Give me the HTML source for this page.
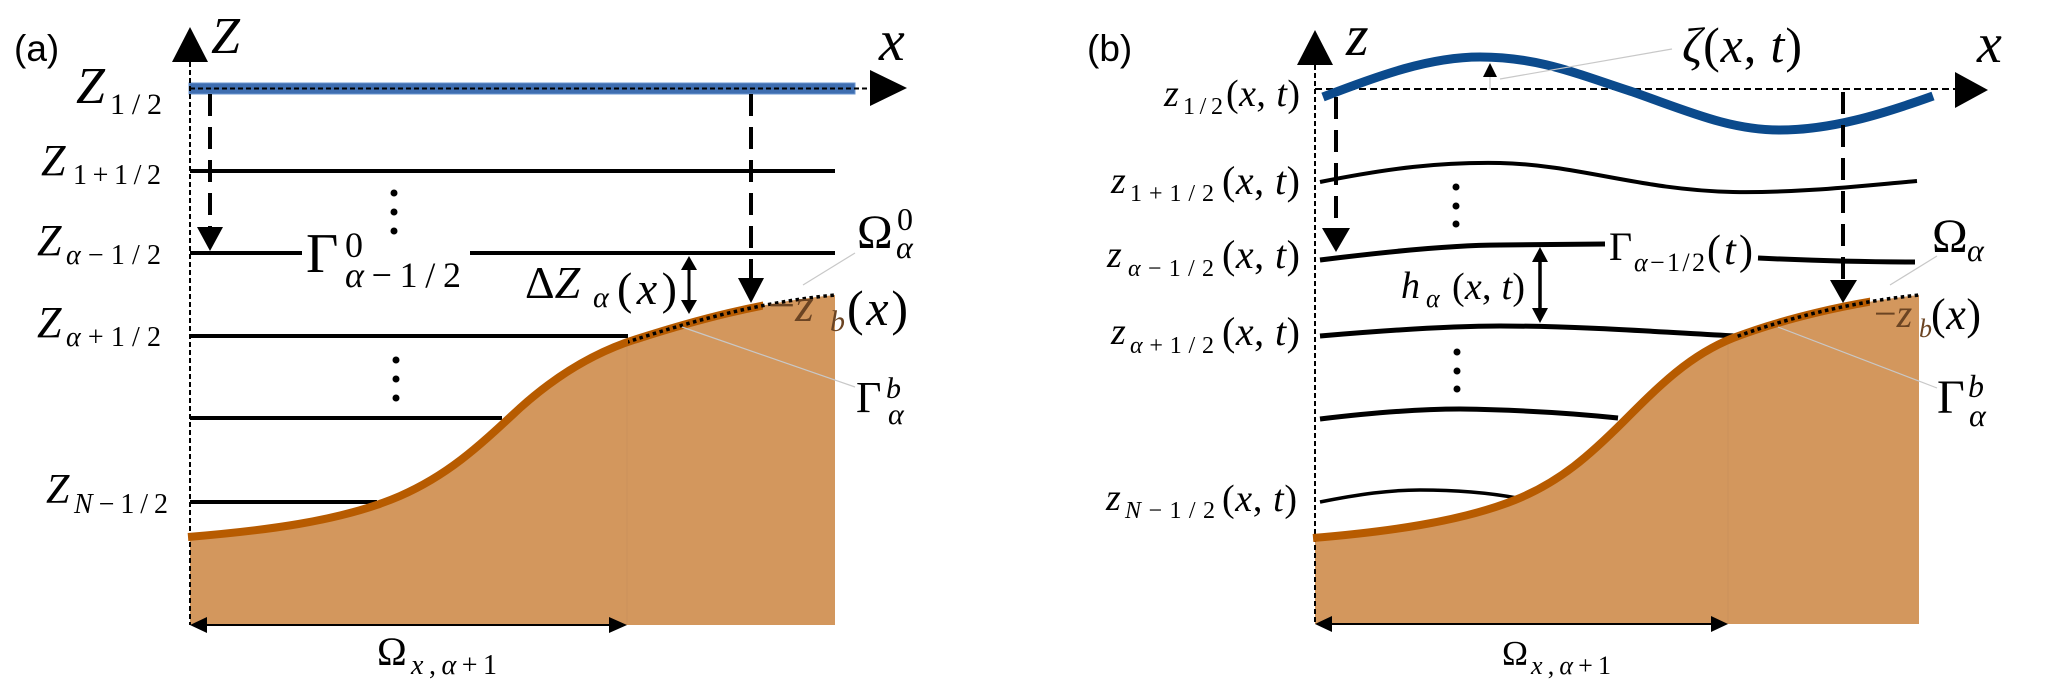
<!DOCTYPE html>
<html><head><meta charset="utf-8">
<style>
html,body{margin:0;padding:0;background:#fff;}
svg{display:block;}
.m{font-family:"Liberation Serif",serif;font-style:italic;}
.r{font-family:"Liberation Serif",serif;font-style:normal;}
.s{font-family:"Liberation Sans",sans-serif;}
</style></head><body>
<svg width="2067" height="697" viewBox="0 0 2067 697" xmlns="http://www.w3.org/2000/svg">
<defs>
<clipPath id="ca1"><rect x="170" y="200" width="593" height="400"/></clipPath>
<clipPath id="ca2"><rect x="628" y="200" width="210" height="200"/></clipPath>
<clipPath id="cb1"><rect x="1300" y="200" width="570" height="400"/></clipPath>
<clipPath id="cb2"><rect x="1735" y="200" width="186" height="200"/></clipPath>
</defs>
<rect width="2067" height="697" fill="#fff"/>

<!-- ============ PANEL A ============ -->
<path d="M190,537 C260,531 340,522 400,496 C450,474 480,445 520,408 C560,372 600,350 640,338 C690,322 760,302 835,295 L835,625 L190,625 Z" fill="#D3975D"/>
<line x1="627" y1="338" x2="627" y2="625" stroke="rgba(150,110,70,0.12)" stroke-width="1"/>

<!-- blue surface -->
<rect x="189" y="83" width="666" height="11" fill="#3f6eb0" stroke="#6a94cf" stroke-width="1"/>
<line x1="190" y1="88.5" x2="872" y2="88.5" stroke="#000" stroke-width="2" stroke-dasharray="5,3"/>
<polygon points="870,70 870,106 907,88" fill="#000"/>

<!-- Z axis -->
<line x1="190" y1="62" x2="190" y2="625" stroke="#000" stroke-width="2" stroke-dasharray="5,3"/>
<polygon points="172,62 208,62 190,27" fill="#000"/>

<!-- layer lines -->
<g stroke="#000" stroke-width="4">
<line x1="190" y1="171" x2="835" y2="171"/>
<line x1="190" y1="253" x2="302" y2="253"/>
<line x1="470" y1="253" x2="835" y2="253"/>
<line x1="190" y1="336" x2="628" y2="336"/>
<line x1="190" y1="418" x2="502" y2="418"/>
<line x1="190" y1="502" x2="377" y2="502"/>
</g>

<!-- bed stroke -->
<path d="M188,537 C260,531 340,522 400,496 C450,474 480,445 520,408 C560,372 600,350 640,338 C690,322 760,302 835,295" fill="none" stroke="#B75B00" stroke-width="8" clip-path="url(#ca1)"/>
<path d="M190,537 C260,531 340,522 400,496 C450,474 480,445 520,408 C560,372 600,350 640,338 C690,322 760,302 835,295" fill="none" stroke="#000" stroke-width="3.5" stroke-dasharray="3.5,3.5" clip-path="url(#ca2)"/>

<!-- vdots -->
<g fill="#000">
<circle cx="394" cy="193" r="3.5"/><circle cx="394" cy="212" r="3.5"/><circle cx="394" cy="231" r="3.5"/>
<circle cx="396" cy="360" r="3.5"/><circle cx="396" cy="379" r="3.5"/><circle cx="396" cy="398" r="3.5"/>
</g>

<!-- dashed arrows -->
<line x1="210" y1="94" x2="210" y2="228" stroke="#000" stroke-width="4" stroke-dasharray="22,11"/>
<polygon points="197,227 223,227 210,251" fill="#000"/>
<line x1="751" y1="94" x2="751" y2="280" stroke="#000" stroke-width="4" stroke-dasharray="22,11"/>
<polygon points="738,278 764,278 751,303" fill="#000"/>

<!-- delta Z arrow -->
<line x1="689" y1="268" x2="689" y2="302" stroke="#000" stroke-width="3"/>
<polygon points="681,270 697,270 689,256" fill="#000"/>
<polygon points="681,300 697,300 689,314" fill="#000"/>

<!-- Omega_x arrow -->
<line x1="200" y1="625" x2="617" y2="625" stroke="#000" stroke-width="2"/>
<polygon points="190,625 207,617 207,633" fill="#000"/>
<polygon points="627,625 609,617 609,633" fill="#000"/>

<!-- leaders -->
<g stroke="#c8c8c8" stroke-width="1.2">
<line x1="855" y1="253" x2="803" y2="285"/>
<line x1="682" y1="327" x2="855" y2="387"/>
</g>

<!-- text panel a -->
<text class="s" x="14" y="61" font-size="37">(a)</text>
<text class="m" x="211" y="53" font-size="52">Z</text>
<text class="m" x="879" y="60" font-size="58">x</text>

<text class="m" x="76" y="103" font-size="52">Z</text>
<text class="r" x="110" y="114" font-size="30" textLength="52" lengthAdjust="spacing">1/2</text>

<text class="m" x="41" y="175" font-size="44">Z</text>
<text class="r" x="73" y="184" font-size="28" textLength="88" lengthAdjust="spacing">1+1/2</text>

<text class="m" x="37" y="255" font-size="44">Z</text>
<text class="r" x="66" y="264" font-size="28" textLength="95" lengthAdjust="spacing"><tspan class="m">α</tspan>−1/2</text>

<text class="m" x="37" y="337" font-size="44">Z</text>
<text class="r" x="66" y="346" font-size="28" textLength="95" lengthAdjust="spacing"><tspan class="m">α</tspan>+1/2</text>

<text class="m" x="46" y="503" font-size="42">Z</text>
<text class="r" x="74" y="513" font-size="28" textLength="94" lengthAdjust="spacing"><tspan class="m">N</tspan>−1/2</text>

<text class="r" x="306" y="272" font-size="56">Γ</text>
<text class="r" x="345" y="257" font-size="36">0</text>
<text class="r" x="345" y="287" font-size="36" textLength="116" lengthAdjust="spacing"><tspan class="m">α</tspan>−1/2</text>

<text class="r" x="525" y="298" font-size="46">Δ<tspan class="m">Z</tspan></text>
<text class="m" x="593" y="307" font-size="30">α</text>
<text class="r" x="617" y="304" font-size="46" textLength="60" lengthAdjust="spacing">(<tspan class="m">x</tspan>)</text>

<text class="r" x="857" y="248" font-size="48">Ω</text>
<text class="r" x="897" y="230" font-size="32">0</text>
<text class="m" x="896" y="258" font-size="32">α</text>

<text class="r" x="768" y="321" font-size="48" fill="#6b4423">−<tspan class="m">z</tspan></text>
<text class="m" x="830" y="331" font-size="30" fill="#6b4423">b</text>
<text class="r" x="847" y="325" font-size="50" textLength="61" lengthAdjust="spacing">(<tspan class="m">x</tspan>)</text>

<text class="r" x="856" y="412" font-size="44">Γ</text>
<text class="m" x="886" y="398" font-size="30">b</text>
<text class="m" x="888" y="424" font-size="30">α</text>

<text class="r" x="377" y="665" font-size="40">Ω</text>
<text class="r" x="411" y="674" font-size="28" textLength="86" lengthAdjust="spacing"><tspan class="m">x</tspan>,<tspan class="m">α</tspan>+1</text>

<!-- ============ PANEL B ============ -->
<path d="M1315,538 C1385,532 1460,522 1515,500 C1560,482 1590,455 1625,420 C1660,385 1690,355 1733,338 C1780,320 1850,302 1919,295 L1919,624 L1315,624 Z" fill="#D3975D"/>
<line x1="1728" y1="340" x2="1728" y2="624" stroke="rgba(150,110,70,0.12)" stroke-width="1"/>

<!-- axes -->
<line x1="1315" y1="89" x2="1958" y2="89" stroke="#000" stroke-width="2" stroke-dasharray="7,4"/>
<polygon points="1955,72 1955,108 1988,90" fill="#000"/>
<line x1="1315" y1="65" x2="1315" y2="624" stroke="#000" stroke-width="2" stroke-dasharray="5,3"/>
<polygon points="1297,65 1333,65 1315,30" fill="#000"/>

<!-- blue wave -->
<path d="M1323,97 C1380,75 1430,57 1480,57 C1540,57 1580,75 1633,92 C1690,112 1730,130 1780,130 C1830,130 1880,115 1933,96" fill="none" stroke="#0b4a8c" stroke-width="9"/>

<!-- zeta marker -->
<line x1="1490" y1="77" x2="1490" y2="89" stroke="#c8c8c8" stroke-width="1.2"/>
<line x1="1500" y1="79" x2="1672" y2="49" stroke="#c8c8c8" stroke-width="1.2"/>
<polygon points="1483,77 1497,77 1490,63" fill="#000"/>

<!-- layer curves -->
<g fill="none" stroke="#000">
<path d="M1320,182 C1390,168 1440,162 1500,163 C1580,165 1640,190 1733,192 C1800,193 1860,186 1917,181" stroke-width="4"/>
<path d="M1320,260 C1400,250 1460,245 1500,245 L1605,244" stroke-width="5"/>
<path d="M1758,258 C1800,260 1860,262 1915,262" stroke-width="5"/>
<path d="M1320,336 C1390,330 1450,326 1500,326 C1580,326 1660,332 1735,336" stroke-width="5"/>
<path d="M1320,419 C1370,413 1420,409 1460,409 C1530,410 1580,414 1618,418" stroke-width="5"/>
<path d="M1320,502 C1360,494 1390,490 1420,490 C1460,490 1490,493 1517,498" stroke-width="3.5"/>
</g>

<!-- bed stroke b -->
<path d="M1313,538 C1385,532 1460,522 1515,500 C1560,482 1590,455 1625,420 C1660,385 1690,355 1733,338 C1780,320 1850,302 1919,295" fill="none" stroke="#B75B00" stroke-width="8" clip-path="url(#cb1)"/>
<path d="M1315,538 C1385,532 1460,522 1515,500 C1560,482 1590,455 1625,420 C1660,385 1690,355 1733,338 C1780,320 1850,302 1919,295" fill="none" stroke="#000" stroke-width="3.5" stroke-dasharray="3.5,3.5" clip-path="url(#cb2)"/>

<!-- vdots b -->
<g fill="#000">
<circle cx="1456" cy="187" r="3.5"/><circle cx="1456" cy="206" r="3.5"/><circle cx="1456" cy="224" r="3.5"/>
<circle cx="1457" cy="352" r="3.5"/><circle cx="1457" cy="371" r="3.5"/><circle cx="1457" cy="389" r="3.5"/>
</g>

<!-- dashed arrows b -->
<line x1="1336" y1="97" x2="1336" y2="229" stroke="#000" stroke-width="4" stroke-dasharray="22,11"/>
<polygon points="1322,228 1350,228 1336,252" fill="#000"/>
<line x1="1843" y1="92" x2="1843" y2="281" stroke="#000" stroke-width="4" stroke-dasharray="22,11"/>
<polygon points="1830,280 1857,280 1843,303" fill="#000"/>

<!-- h arrow -->
<line x1="1540" y1="260" x2="1540" y2="310" stroke="#000" stroke-width="3.5"/>
<polygon points="1532,262 1548,262 1540,247" fill="#000"/>
<polygon points="1532,308 1548,308 1540,323" fill="#000"/>

<!-- Omega_x arrow b -->
<line x1="1325" y1="624" x2="1718" y2="624" stroke="#000" stroke-width="2"/>
<polygon points="1315,624 1332,616 1332,632" fill="#000"/>
<polygon points="1728,624 1711,616 1711,632" fill="#000"/>

<!-- leaders b -->
<g stroke="#c8c8c8" stroke-width="1.2">
<line x1="1937" y1="256" x2="1890" y2="285"/>
<line x1="1778" y1="327" x2="1937" y2="388"/>
</g>

<!-- text panel b -->
<text class="s" x="1087" y="61" font-size="37">(b)</text>
<text class="m" x="1346" y="55" font-size="58">z</text>
<text class="m" x="1977" y="62" font-size="56">x</text>

<text class="r" x="1682" y="62" font-size="50" textLength="120" lengthAdjust="spacing"><tspan class="m">ζ</tspan>(<tspan class="m">x</tspan>, <tspan class="m">t</tspan>)</text>

<text class="m" x="1164" y="106" font-size="38">z</text>
<text class="r" x="1183" y="114" font-size="24" textLength="40" lengthAdjust="spacing">1/2</text>
<text class="r" x="1226" y="106" font-size="38" textLength="74" lengthAdjust="spacing">(<tspan class="m">x</tspan>, <tspan class="m">t</tspan>)</text>

<text class="m" x="1111" y="193" font-size="38">z</text>
<text class="r" x="1130" y="201" font-size="24" textLength="84" lengthAdjust="spacing">1+1/2</text>
<text class="r" x="1222" y="194" font-size="40" textLength="78" lengthAdjust="spacing">(<tspan class="m">x</tspan>, <tspan class="m">t</tspan>)</text>

<text class="m" x="1107" y="267" font-size="38">z</text>
<text class="r" x="1128" y="276" font-size="24" textLength="86" lengthAdjust="spacing"><tspan class="m">α</tspan>−1/2</text>
<text class="r" x="1222" y="268" font-size="40" textLength="78" lengthAdjust="spacing">(<tspan class="m">x</tspan>, <tspan class="m">t</tspan>)</text>

<text class="m" x="1111" y="344" font-size="38">z</text>
<text class="r" x="1130" y="353" font-size="24" textLength="84" lengthAdjust="spacing"><tspan class="m">α</tspan>+1/2</text>
<text class="r" x="1222" y="345" font-size="40" textLength="78" lengthAdjust="spacing">(<tspan class="m">x</tspan>, <tspan class="m">t</tspan>)</text>

<text class="m" x="1106" y="510" font-size="38">z</text>
<text class="r" x="1125" y="518" font-size="24" textLength="90" lengthAdjust="spacing"><tspan class="m">N</tspan>−1/2</text>
<text class="r" x="1222" y="511" font-size="38" textLength="75" lengthAdjust="spacing">(<tspan class="m">x</tspan>, <tspan class="m">t</tspan>)</text>

<text class="r" x="1609" y="260" font-size="40">Γ</text>
<text class="r" x="1634" y="271" font-size="26" textLength="71" lengthAdjust="spacing"><tspan class="m">α</tspan>−1/2</text>
<text class="r" x="1707" y="264" font-size="42" textLength="46" lengthAdjust="spacing">(<tspan class="m">t</tspan>)</text>

<text class="m" x="1401" y="298" font-size="38">h</text>
<text class="m" x="1426" y="307" font-size="26">α</text>
<text class="r" x="1452" y="299" font-size="38" textLength="73" lengthAdjust="spacing">(<tspan class="m">x</tspan>, <tspan class="m">t</tspan>)</text>

<text class="r" x="1932" y="252" font-size="48">Ω</text>
<text class="m" x="1967" y="261" font-size="32">α</text>

<text class="r" x="1874" y="327" font-size="40" fill="#6b4423">−<tspan class="m">z</tspan></text>
<text class="m" x="1919" y="337" font-size="26" fill="#6b4423">b</text>
<text class="r" x="1931" y="329" font-size="44" textLength="50" lengthAdjust="spacing">(<tspan class="m">x</tspan>)</text>

<text class="r" x="1937" y="413" font-size="48">Γ</text>
<text class="m" x="1968" y="397" font-size="32">b</text>
<text class="m" x="1969" y="426" font-size="32">α</text>

<text class="r" x="1502" y="665" font-size="35">Ω</text>
<text class="r" x="1531" y="674" font-size="26" textLength="80" lengthAdjust="spacing"><tspan class="m">x</tspan>,<tspan class="m">α</tspan>+1</text>

</svg>
</body></html>
